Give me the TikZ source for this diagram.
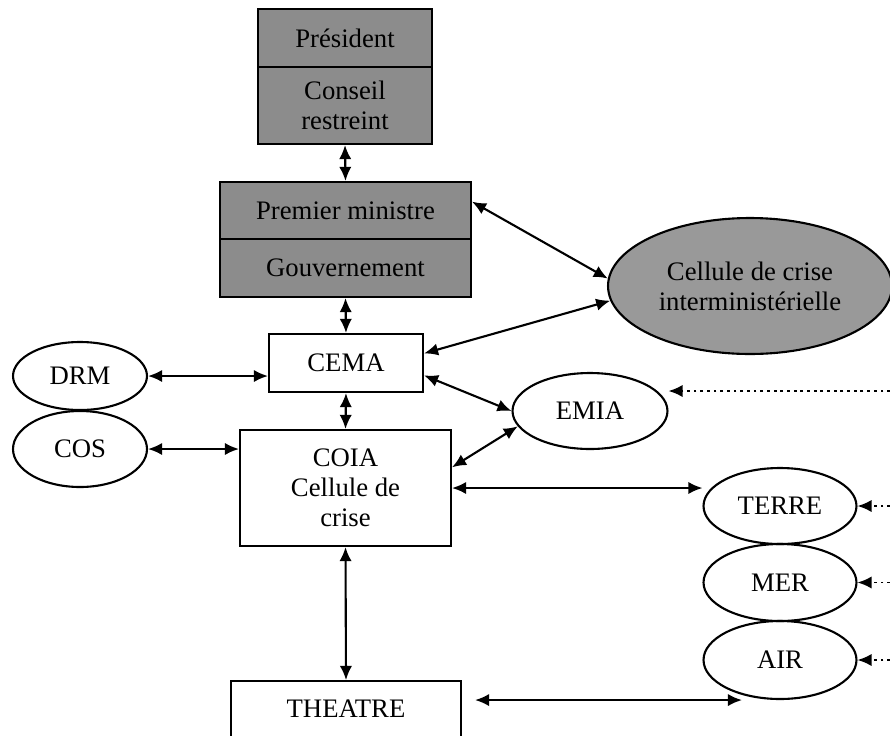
\documentclass[tikz,border=0pt]{standalone}
\usepackage{fontspec}
\setmainfont{Liberation Serif}
\usetikzlibrary{arrows.meta,shapes.geometric,positioning}

\begin{document}
\begin{tikzpicture}[x=0.02cm,y=-0.02cm,>={Latex[length=8pt,width=7pt]},
  every node/.style={font=\fontsize{15.2}{17}\selectfont,align=center,inner sep=0pt},
  box/.style={draw,line width=1.2pt,rectangle},
  darkbox/.style={box,fill=black!45},
  oval/.style={draw,line width=1.2pt,ellipse},
  link/.style={<->,line width=1.2pt},
  feed/.style={->,line width=1.1pt,dash pattern=on 1.6pt off 2.2pt}]
\useasboundingbox (0,0) rectangle (890,735);

\node[darkbox,minimum width=3.48cm,minimum height=1.16cm] (pres) at (345,38) {Président};
\node[darkbox,minimum width=3.48cm,minimum height=1.54cm] (conseil) at (345,105.5) {Conseil\\restreint};
\node[darkbox,minimum width=5.02cm,minimum height=1.14cm] (pm) at (345.5,210.5) {Premier ministre};
\node[darkbox,minimum width=5.02cm,minimum height=1.16cm] (gouv) at (345.5,268) {Gouvernement};
\node[oval,fill=black!40,minimum width=5.68cm,minimum height=2.72cm] (cellule) at (750,286) {Cellule de crise\\interministérielle};

\node[box,minimum width=3.08cm,minimum height=1.16cm] (cema) at (346,363) {CEMA};
\node[box,minimum width=4.22cm,minimum height=2.32cm] (coia) at (345.5,488) {COIA\\Cellule de\\crise};
\node[box,anchor=north,minimum width=4.6cm,minimum height=1.6cm,text height=0.72cm,text depth=0.88cm] (theatre) at (346,680) {THEATRE};

\node[oval,minimum width=2.68cm,minimum height=1.36cm] (drm) at (80,376) {DRM};
\node[oval,minimum width=2.68cm,minimum height=1.52cm] (cos) at (80,449) {COS};
\node[oval,minimum width=3.1cm,minimum height=1.52cm] (emia) at (590,411) {EMIA};
\node[oval,minimum width=3.06cm,minimum height=1.52cm] (terre) at (780,506) {TERRE};
\node[oval,minimum width=3.06cm,minimum height=1.54cm] (mer) at (780,582.5) {MER};
\node[oval,minimum width=3.06cm,minimum height=1.56cm] (air) at (780,660) {AIR};

\coordinate (r1) at (890,391);
\coordinate (r2) at (890,506);
\coordinate (r3) at (890,582.5);
\coordinate (r4) at (890,660);

\draw[link] (conseil.south) -- (pm.north);
\draw[link] (gouv.south) -- (cema.north);
\draw[link] (pm.4) -- (cellule.177);
\draw[link] (cema.7) -- (cellule.186);
\draw[link] (cema.-9) -- (emia.west);
\draw[link] (emia.192) -- (coia.11);
\draw[link] (drm) -- (drm -| cema.west);
\draw[link] (cos) -- (cos -| coia.west);
\draw[link] (cema.south) -- (coia.north);
\draw[link] (coia.east) -- (coia.east -| terre.west);
\draw[link] (coia.south) -- (theatre.north);
\draw[link] ([xshift=0.26cm]theatre.east |- air.south) -- ([xshift=-0.76cm]air.south);

\draw[feed] (r1) -- (r1 -| emia.east);
\draw[feed] (r2) -- (terre.east);
\draw[feed] (r3) -- (mer.east);
\draw[feed] (r4) -- (air.east);
\end{tikzpicture}
\end{document}
